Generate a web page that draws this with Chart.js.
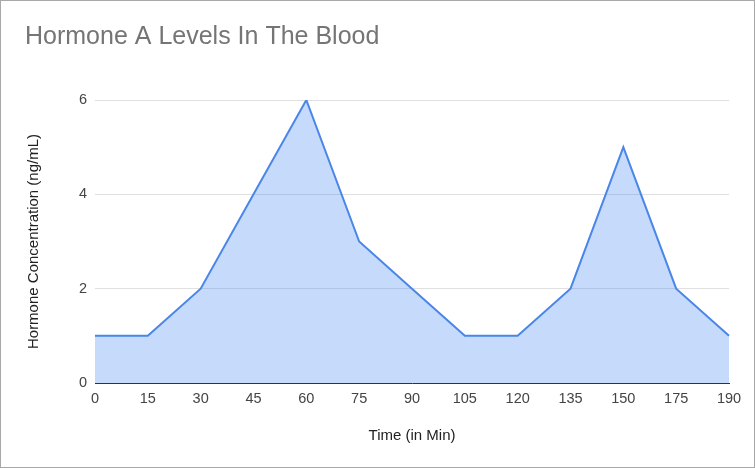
<!DOCTYPE html>
<html lang="en">
<head>
    <meta charset="UTF-8">
    <title>Hormone A Levels In The Blood</title>
    <script src="https://cdn.jsdelivr.net/npm/chart.js"></script>
    <style>
        body { margin: 0; background: #fff; }
        .chart-box { width: 753px; height: 466px; border: 1px solid #a8a8a8; }
    </style>
</head>
<body>
    <div class="chart-box">
        <canvas id="hormoneChart" width="753" height="466"></canvas>
    </div>

    <script>
        // time points (min) and hormone concentration (ng/mL)
        const times = ['0', '15', '30', '45', '60', '75', '90', '105', '120', '135', '150', '175', '190'];
        const levels = [1, 1, 2, 4, 6, 3, 2, 1, 1, 2, 5, 2, 1];
        const yTicks = [0, 2, 4, 6];

        const font = 'Arial, "Liberation Sans", sans-serif';

        const ctx = document.getElementById('hormoneChart').getContext('2d');
        new Chart(ctx, {
            type: 'line',
            data: {
                labels: times,
                datasets: [{
                    label: 'Hormone A',
                    data: levels,
                    borderColor: '#4a86e8',
                    backgroundColor: 'rgba(66, 133, 244, 0.3)',
                    borderWidth: 2,
                    fill: 'origin',
                    pointRadius: 0,
                    tension: 0
                }]
            },
            options: {
                responsive: false,
                animation: false,
                layout: { padding: { left: 24, right: 25, top: 0, bottom: 0 } },
                plugins: {
                    legend: { display: false },
                    tooltip: { enabled: false },
                    title: {
                        display: true,
                        text: 'Hormone A Levels In The Blood',
                        align: 'start',
                        color: '#757575',
                        font: { family: font, size: 25, weight: 'normal' },
                        padding: { top: 21, bottom: 48 }
                    }
                },
                scales: {
                    x: {
                        offset: false,
                        grid: { display: false, drawTicks: false },
                        border: { display: true, color: '#333', width: 1 },
                        ticks: {
                            color: '#444',
                            font: { family: font, size: 14.5 },
                            padding: 7,
                            maxRotation: 0,
                            autoSkip: false
                        },
                        title: {
                            display: true,
                            text: 'Time (in Min)',
                            color: '#222',
                            font: { family: font, size: 15 },
                            padding: { top: 4, bottom: 22 }
                        },
                        afterFit: s => { s.height = 84; }
                    },
                    y: {
                        min: 0,
                        max: 6,
                        afterBuildTicks: s => { s.ticks = yTicks.map(v => ({ value: v })); },
                        grid: { color: '#e0e0e0', drawTicks: false },
                        border: { display: false },
                        ticks: {
                            color: '#444',
                            font: { family: font, size: 14.5 },
                            padding: 8
                        },
                        title: {
                            display: true,
                            text: 'Hormone Concentration (ng/mL)',
                            color: '#222',
                            font: { family: font, size: 15 },
                            padding: 0
                        },
                        afterFit: s => { s.width = 70; }
                    }
                }
            }
        });
    </script>
</body>
</html>
